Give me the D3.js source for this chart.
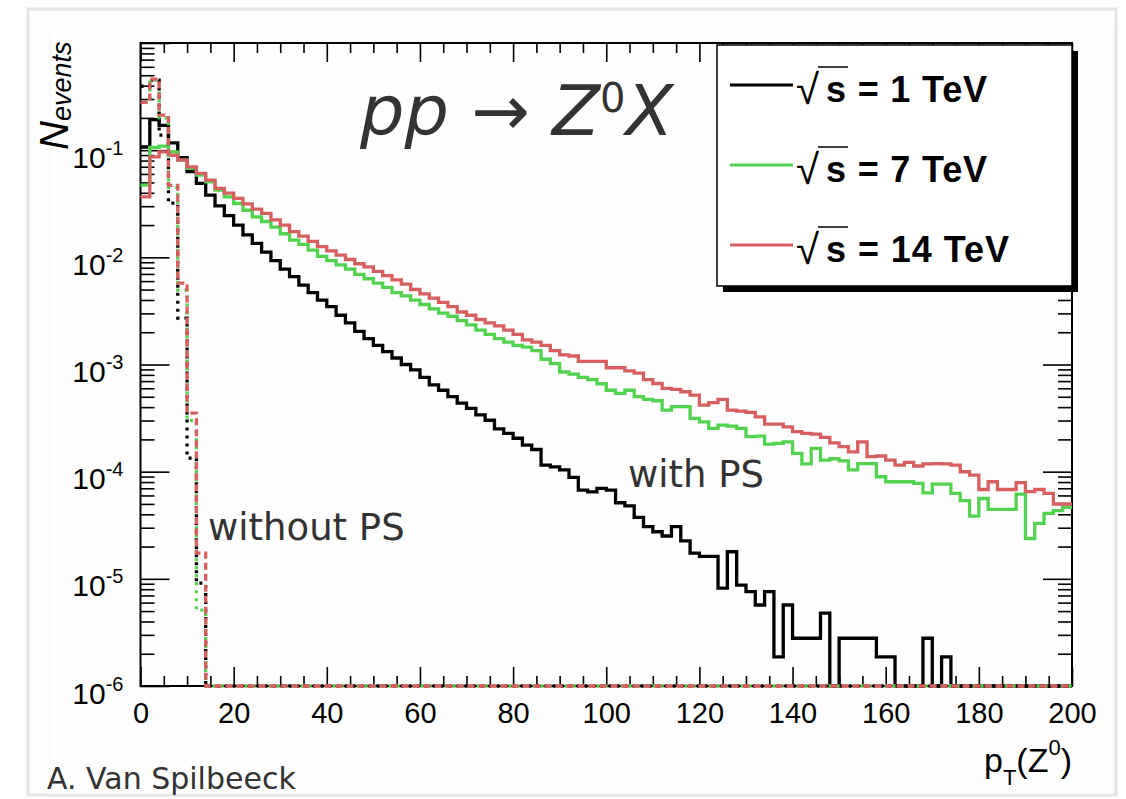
<!DOCTYPE html>
<html>
<head>
<meta charset="utf-8">
<script src="https://cdn.jsdelivr.net/npm/d3@7"></script>
<style>
  body { margin: 0; background: #fff; }
  svg { display: block; }
</style>
</head>
<body>
<svg id="chart" width="1126" height="799"></svg>
<script>
// pT(Z0) histograms, 2 GeV bins from 0 to 200
var binWidth = 2;
var binEdges = d3.range(0, 200, binWidth);

// with parton shower (solid lines), one value per bin
var ps1TeV = [
  0.107, 0.193, 0.170, 0.117, 0.0851, 0.0631, 0.0490, 0.0380, 0.0302, 0.0245,
  0.0200, 0.0162, 0.0135, 0.0112, 0.00933, 0.00776, 0.00661, 0.00550, 0.00468, 0.00398,
  0.00347, 0.00288, 0.00245, 0.00204, 0.00174, 0.00151, 0.00132, 0.00115, 0.00100, 0.000891,
  7.59e-4, 6.46e-4, 5.75e-4, 5.01e-4, 4.37e-4, 3.89e-4, 3.39e-4, 3.02e-4, 2.51e-4, 2.28e-4,
  2.05e-4, 1.77e-4, 1.61e-4, 1.15e-4, 1.11e-4, 1.04e-4, 8.85e-5, 6.73e-5, 6.49e-5, 6.98e-5,
  6.73e-5, 5.13e-5, 4.79e-5, 3.75e-5, 3.07e-5, 2.75e-5, 2.51e-5, 3.07e-5, 2.26e-5, 1.74e-5,
  1.62e-5, 1.62e-5, 8.2e-6, 1.79e-5, 8.75e-6, 7.59e-6, 5.7e-6, 7.59e-6, 1.87e-6, 5.7e-6,
  2.79e-6, 2.79e-6, 2.79e-6, 4.79e-6, 0, 2.79e-6, 2.79e-6, 2.79e-6, 2.79e-6, 1.87e-6,
  1.87e-6, 0, 0, 0, 2.79e-6, 0, 1.87e-6, 0, 0, 0,
  0, 0, 0, 0, 0, 0, 0, 0, 0, 0
];
var ps7TeV = [
  0.0471, 0.106, 0.109, 0.0964, 0.0807, 0.0676, 0.0585, 0.0507, 0.0424, 0.0366,
  0.0318, 0.0275, 0.0239, 0.0216, 0.0191, 0.0166, 0.0145, 0.0132, 0.0117, 0.0102,
  0.00933, 0.00851, 0.00776, 0.00692, 0.00631, 0.00575, 0.00525, 0.00468, 0.00437, 0.00398,
  0.00363, 0.00331, 0.00302, 0.00282, 0.00257, 0.00234, 0.00209, 0.00191, 0.00174, 0.00162,
  0.00151, 0.00145, 0.00135, 0.00112, 0.00102, 8.51e-4, 8.13e-4, 7.59e-4, 7.24e-4, 6.61e-4,
  5.75e-4, 5.37e-4, 5.75e-4, 5.01e-4, 4.72e-4, 4.59e-4, 3.76e-4, 4.04e-4, 4.04e-4, 3.14e-4,
  2.92e-4, 2.54e-4, 2.72e-4, 2.66e-4, 2.54e-4, 2.12e-4, 2.15e-4, 1.81e-4, 1.84e-4, 1.90e-4,
  1.48e-4, 1.18e-4, 1.65e-4, 1.28e-4, 1.32e-4, 1.26e-4, 1.04e-4, 1.19e-4, 1.19e-4, 8.97e-5,
  8.05e-5, 8.05e-5, 8.05e-5, 7.76e-5, 6.35e-5, 7.66e-5, 7.66e-5, 6.27e-5, 5.36e-5, 3.85e-5,
  5.62e-5, 4.45e-5, 4.45e-5, 4.45e-5, 6.18e-5, 2.38e-5, 3.29e-5, 4.08e-5, 4.33e-5, 4.65e-5
];
var ps14TeV = [
  0.0366, 0.0867, 0.0964, 0.0897, 0.0807, 0.0698, 0.0607, 0.0525, 0.0440, 0.0398,
  0.0355, 0.0316, 0.0282, 0.0257, 0.0224, 0.0200, 0.0174, 0.0158, 0.0141, 0.0126,
  0.0115, 0.0105, 0.00955, 0.00871, 0.00813, 0.00741, 0.00676, 0.00617, 0.00562, 0.00501,
  0.00457, 0.00417, 0.00380, 0.00347, 0.00309, 0.00288, 0.00263, 0.00245, 0.00229, 0.00209,
  0.00191, 0.00170, 0.00162, 0.00151, 0.00135, 0.00123, 0.00120, 0.00107, 0.00107, 0.00107,
  9.33e-4, 9.33e-4, 8.71e-4, 8.32e-4, 7.24e-4, 6.65e-4, 5.98e-4, 5.85e-4, 5.57e-4, 5.19e-4,
  4.18e-4, 4.40e-4, 4.72e-4, 3.76e-4, 3.67e-4, 3.57e-4, 3.25e-4, 2.78e-4, 2.78e-4, 2.62e-4,
  2.36e-4, 2.28e-4, 2.24e-4, 2.09e-4, 1.86e-4, 1.71e-4, 1.53e-4, 1.90e-4, 1.38e-4, 1.40e-4,
  1.28e-4, 1.15e-4, 1.22e-4, 1.13e-4, 1.18e-4, 1.19e-4, 1.18e-4, 1.15e-4, 9.98e-5, 9.29e-5,
  6.82e-5, 8.05e-5, 6.82e-5, 6.82e-5, 7.89e-5, 6.50e-5, 6.82e-5, 6.27e-5, 4.99e-5, 4.99e-5
];

// without parton shower (dashed lines): first bins, empty afterwards
var noPs1TeV  = [0.395, 0.45, 0.138, 0.032, 0.00271, 1.34e-4, 9.1e-6, 0];
var noPs7TeV  = [0.28, 0.45, 0.200, 0.045, 0.00494, 3.0e-4, 5.1e-6, 0];
var noPs14TeV = [0.28, 0.46, 0.212, 0.047, 0.00574, 3.52e-4, 1.74e-5, 0];

var seriesLabels = ["1 TeV", "7 TeV", "14 TeV"];
var seriesColors = ["#000000", "#52d24f", "#d75f5f"];

var xMajor = d3.range(0, 201, 20);
var xMinor = d3.range(0, 201, 5).filter(function(d) { return d % 20 !== 0; });
var yMajor = [1e-6, 1e-5, 1e-4, 1e-3, 1e-2, 1e-1, 1];
var yMinor = [];
yMajor.slice(0, -1).forEach(function(d) {
  d3.range(2, 10).forEach(function(k) { yMinor.push(d * k); });
});

var svg = d3.select("#chart");
var plotLeft = 140.5, plotRight = 1072, plotTop = 43, plotBottom = 686;

var x = d3.scaleLinear().domain([0, 200]).range([plotLeft, plotRight]);
var y = d3.scaleLog().domain([1e-6, 1]).range([plotBottom, plotTop]).clamp(true);

// slide picture frame
svg.append("rect").attr("x", 28).attr("y", 9).attr("width", 1088).attr("height", 786)
  .attr("fill", "#fdfdfd").attr("stroke", "#e4e4e4").attr("stroke-width", 3);
svg.append("rect").attr("x", 50).attr("y", 32).attr("width", 1064).attr("height", 762)
  .attr("fill", "#fefefe").attr("stroke", "#f3f3f3").attr("stroke-width", 1);

var font = "'Liberation Sans', Arial, Helvetica, sans-serif";
var slideFont = "'DejaVu Sans', Verdana, sans-serif";

function styleAxis(g) {
  g.select(".domain").remove();
  g.selectAll(".tick line").attr("stroke", "#000").attr("stroke-width", 1.6);
}

// x axis, bottom and top
svg.append("g").attr("transform", "translate(0," + plotBottom + ")")
  .call(d3.axisBottom(x).tickValues(xMajor).tickSize(-19).tickPadding(16).tickFormat(d3.format("d")))
  .call(styleAxis)
  .selectAll("text").attr("font-family", font).attr("font-size", 29).attr("fill", "#000");
svg.append("g").attr("transform", "translate(0," + plotBottom + ")")
  .call(d3.axisBottom(x).tickValues(xMinor).tickSize(-10).tickFormat(""))
  .call(styleAxis);
svg.append("g").attr("transform", "translate(0," + plotTop + ")")
  .call(d3.axisTop(x).tickValues(xMajor).tickSize(-19).tickFormat(""))
  .call(styleAxis);
svg.append("g").attr("transform", "translate(0," + plotTop + ")")
  .call(d3.axisTop(x).tickValues(xMinor).tickSize(-10).tickFormat(""))
  .call(styleAxis);

// y axis, left and right
var yl = svg.append("g").attr("transform", "translate(" + plotLeft + ",0)")
  .call(d3.axisLeft(y).tickValues(yMajor).tickSize(-29).tickFormat(""))
  .call(styleAxis);
svg.append("g").attr("transform", "translate(" + plotLeft + ",0)")
  .call(d3.axisLeft(y).tickValues(yMinor).tickSize(-14).tickFormat(""))
  .call(styleAxis);
svg.append("g").attr("transform", "translate(" + plotRight + ",0)")
  .call(d3.axisRight(y).tickValues(yMajor).tickSize(-29).tickFormat(""))
  .call(styleAxis);
svg.append("g").attr("transform", "translate(" + plotRight + ",0)")
  .call(d3.axisRight(y).tickValues(yMinor).tickSize(-14).tickFormat(""))
  .call(styleAxis);

// 10^n labels
yl.selectAll(".tick").filter(function(d) { return d < 1; }).each(function(d) {
  var t = d3.select(this).select("text")
    .attr("x", -17).attr("dy", null).attr("y", 17)
    .attr("font-family", font).attr("font-size", 30).attr("fill", "#000")
    .attr("text-anchor", "end");
  t.append("tspan").text("10");
  t.append("tspan").attr("dy", -13).attr("font-size", 20).text(String(Math.round(Math.log10(d))));
});

// frame
svg.append("rect").attr("x", plotLeft).attr("y", plotTop)
  .attr("width", plotRight - plotLeft).attr("height", plotBottom - plotTop)
  .attr("fill", "none").attr("stroke", "#000").attr("stroke-width", 2);

// histogram outline: step after each bin edge, closed at x = 200
var line = d3.line()
  .x(function(d) { return x(d[0]); })
  .y(function(d) { return y(d[1] > 0 ? d[1] : 1e-6); })
  .curve(d3.curveStepAfter);

function histPoints(values) {
  var pts = values.map(function(v, i) { return [binEdges[i], v]; });
  pts.push([200, values[values.length - 1]]);
  return pts;
}

var dashed = [noPs1TeV, noPs7TeV, noPs14TeV];
var dashPatterns = ["3,5", "3,5", "7,4"];
var dashOffsets = [0, 4, 0];
var solid = [ps1TeV, ps7TeV, ps14TeV];

var hist = svg.append("g").attr("class", "hists");

hist.selectAll("path.solid").data(solid).enter().append("path")
  .attr("class", "solid")
  .attr("d", function(d) { return line(histPoints(d)); })
  .attr("fill", "none")
  .attr("stroke", function(d, i) { return seriesColors[i]; })
  .attr("stroke-width", 3.3)
  .attr("stroke-linejoin", "miter");

// dashed drawn red last so its dashes sit on top of the others
hist.selectAll("path.dashed").data(dashed).enter().append("path")
  .attr("class", "dashed")
  .attr("d", function(d) { return line(histPoints(d)); })
  .attr("fill", "none")
  .attr("stroke", function(d, i) { return seriesColors[i]; })
  .attr("stroke-width", 3.3)
  .attr("stroke-dasharray", function(d, i) { return dashPatterns[i]; })
  .attr("stroke-dashoffset", function(d, i) { return dashOffsets[i]; });

// legend box with ROOT style shadow
var legend = svg.append("g").attr("class", "legend");
legend.append("rect").attr("x", 723).attr("y", 51).attr("width", 355).attr("height", 241)
  .attr("fill", "#000");
legend.append("rect").attr("x", 717).attr("y", 45).attr("width", 355).attr("height", 241)
  .attr("fill", "#fff").attr("stroke", "#000").attr("stroke-width", 1.5);

var keys = legend.selectAll("g.key").data(seriesLabels).enter().append("g")
  .attr("class", "key")
  .attr("transform", function(d, i) { return "translate(0," + (i * 80) + ")"; });
keys.append("line")
  .attr("x1", 730).attr("x2", 793).attr("y1", 85).attr("y2", 85)
  .attr("stroke", function(d, i) { return seriesColors[i]; })
  .attr("stroke-width", 3);
keys.append("text")
  .attr("x", 796).attr("y", 104)
  .attr("font-family", font).attr("font-size", 42).attr("fill", "#000")
  .text("\u221A");
keys.append("line")
  .attr("x1", 818).attr("x2", 848).attr("y1", 67).attr("y2", 67)
  .attr("stroke", "#000").attr("stroke-width", 1.5);
keys.append("text")
  .attr("x", 826).attr("y", 102)
  .attr("font-family", font).attr("font-size", 36).attr("font-weight", "bold").attr("fill", "#000")
  .attr("textLength", function(d, i) { return [161, 161, 183][i]; })
  .text(function(d) { return "s = " + d; });

// axis titles
var yt = svg.append("text")
  .attr("transform", "translate(68,150) rotate(-90)")
  .attr("font-family", font).attr("font-style", "italic").attr("fill", "#000");
yt.append("tspan").attr("font-size", 40).text("N");
yt.append("tspan").attr("font-size", 27).attr("dy", 3).text("events");

var xt = svg.append("text")
  .attr("x", 1072).attr("y", 772).attr("text-anchor", "end")
  .attr("font-family", font).attr("font-size", 34).attr("fill", "#000");
xt.append("tspan").text("p");
xt.append("tspan").attr("font-size", 22).attr("dy", 13).text("T");
xt.append("tspan").attr("dy", -13).text("(Z");
xt.append("tspan").attr("font-size", 22).attr("dy", -17).text("0");
xt.append("tspan").attr("dy", 17).text(")");

// process label
var title = svg.append("text")
  .attr("x", 360).attr("y", 135)
  .attr("font-family", slideFont).attr("font-size", 70).attr("fill", "#333");
title.append("tspan").attr("font-style", "italic").text("pp");
title.append("tspan").text(" \u2192 ");
title.append("tspan").attr("font-style", "italic").text("Z");
title.append("tspan").attr("font-size", 40).attr("dy", -23).text("0");
title.append("tspan").attr("font-style", "italic").attr("dy", 23).text("X");

// annotations on the slide
svg.append("text").attr("x", 628).attr("y", 487)
  .attr("font-family", slideFont).attr("font-size", 37).attr("fill", "#333")
  .text("with PS");
svg.append("text").attr("x", 208).attr("y", 540)
  .attr("font-family", slideFont).attr("font-size", 37).attr("fill", "#333")
  .text("without PS");
svg.append("text").attr("x", 47).attr("y", 789)
  .attr("font-family", slideFont).attr("font-size", 30).attr("fill", "#333")
  .text("A. Van Spilbeeck");
</script>
</body>
</html>
